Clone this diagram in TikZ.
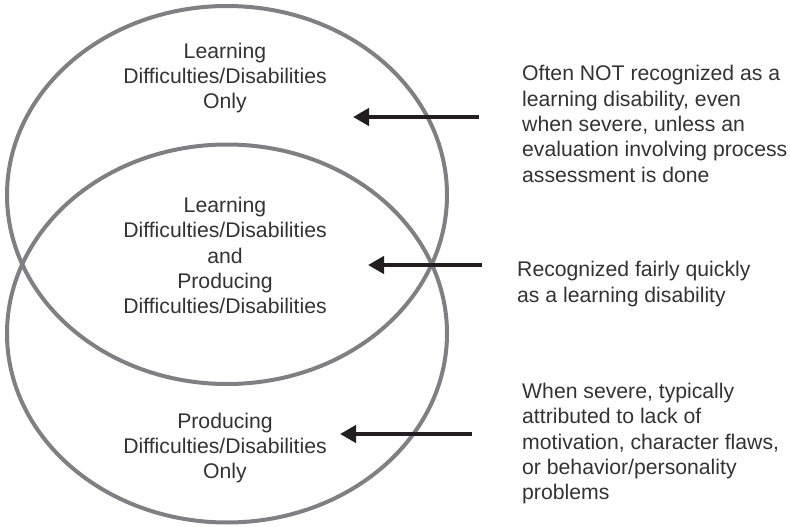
\documentclass[tikz,border=0pt]{standalone}
\usepackage{fontspec}
\setmainfont{Liberation Sans}
\usetikzlibrary{shapes.geometric,arrows.meta}
\definecolor{ringgray}{HTML}{808084}
\definecolor{arrowblack}{HTML}{231F20}
\definecolor{txtgray}{HTML}{333333}
\tikzset{
  ring/.style={draw=ringgray, line width=4pt, ellipse, minimum width=440pt, minimum height=378pt, inner sep=0pt},
  lbl/.style={align=center, inner sep=0pt, text=txtgray, font=\fontsize{21.2}{25.3}\selectfont},
  note/.style={align=left, anchor=west, inner sep=0pt, text=txtgray, font=\fontsize{21.2}{25.3}\selectfont},
  pointer/.style={draw=arrowblack, line width=4.6pt, -{Triangle[length=16pt,width=17pt]}}
}
\begin{document}
\begin{tikzpicture}[x=1pt,y=-1pt]
\useasboundingbox[fill=white] (0,0) rectangle (790,527);
\node[ring] (top) at (227,195) {};
\node[ring] (bot) at (227,333.5) {};
\node[lbl] (ltop) at (225,78) {Learning\\Difficulties/Disabilities\\Only};
\node[lbl] (lmid) at (225,255.5) {Learning\\Difficulties/Disabilities\\and\\Producing\\Difficulties/Disabilities};
\node[lbl] (lbot) at (225,448) {Producing\\Difficulties/Disabilities\\Only};
\node[note] (n1) at (522,124) {Often NOT recognized as a\\learning disability, even\\when severe, unless an\\evaluation involving process\\assessment is done};
\node[note] (n2) at (517,284) {Recognized fairly quickly\\as a learning disability};
\node[note] (n3) at (522,443.6) {When severe, typically\\attributed to lack of\\motivation, character flaws,\\or behavior/personality\\problems};
\coordinate (a1s) at (479,117);
\coordinate (a1e) at (353,117);
\coordinate (a2s) at (482,265);
\coordinate (a2e) at (368,265);
\coordinate (a3s) at (472,434);
\coordinate (a3e) at (340,434);
\draw[pointer] (a1s) -- (a1e);
\draw[pointer] (a2s) -- (a2e);
\draw[pointer] (a3s) -- (a3e);
\end{tikzpicture}
\end{document}
